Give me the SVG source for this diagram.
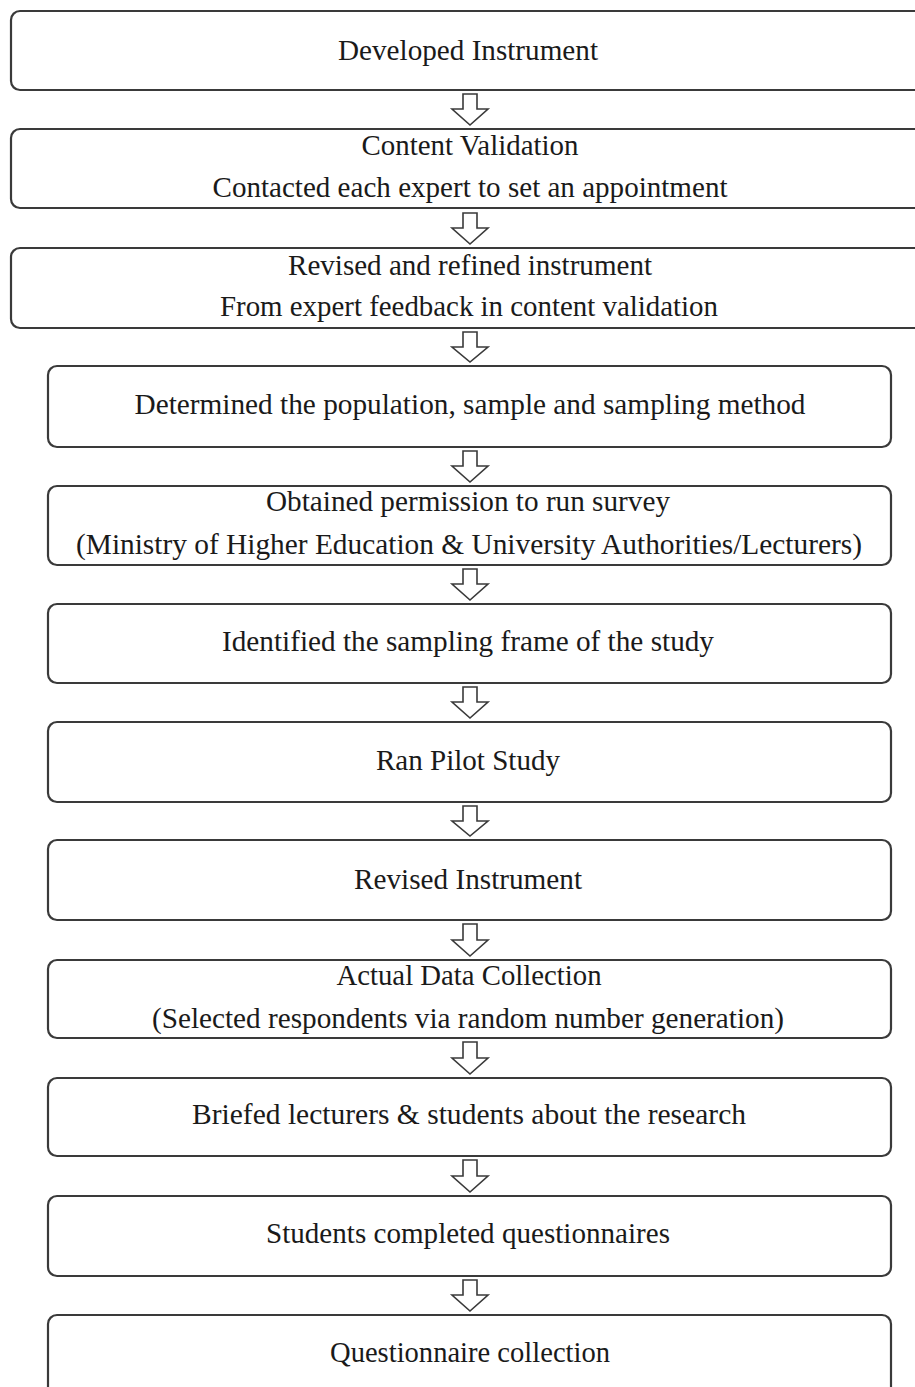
<svg xmlns="http://www.w3.org/2000/svg" width="915" height="1387" viewBox="0 0 915 1387">
<style>
.box{fill:#fff;stroke:#3a3a3a;stroke-width:2.2}
.arr{fill:#fff;stroke:#3a3a3a;stroke-width:1.6;stroke-linejoin:miter}
text{font-family:"Liberation Serif","Times New Roman",serif;font-size:28.5px;fill:#1a1a1a;text-anchor:middle}
</style>
<rect width="915" height="1387" fill="#fff"/>
<g id="n1"><rect class="box" x="11" y="11" width="930" height="79" rx="9"/><text x="468" y="60" textLength="260" lengthAdjust="spacingAndGlyphs">Developed Instrument</text></g>
<g id="n2"><rect class="box" x="11" y="129" width="930" height="79" rx="9"/><text x="470" y="155" textLength="217" lengthAdjust="spacingAndGlyphs">Content Validation</text><text x="470" y="197" textLength="515" lengthAdjust="spacingAndGlyphs">Contacted each expert to set an appointment</text></g>
<g id="n3"><rect class="box" x="11" y="248" width="930" height="80" rx="9"/><text x="470" y="275" textLength="364" lengthAdjust="spacingAndGlyphs">Revised and refined instrument</text><text x="469" y="316" textLength="498" lengthAdjust="spacingAndGlyphs">From expert feedback in content validation</text></g>
<g id="n4"><rect class="box" x="48" y="366" width="843" height="81" rx="9"/><text x="470" y="414" textLength="671" lengthAdjust="spacingAndGlyphs">Determined the population,   sample and sampling method</text></g>
<g id="n5"><rect class="box" x="48" y="486" width="843" height="79" rx="9"/><text x="468" y="511" textLength="404" lengthAdjust="spacingAndGlyphs">Obtained permission to run survey</text><text x="469" y="554" textLength="786" lengthAdjust="spacingAndGlyphs">(Ministry of Higher Education &amp; University Authorities/Lecturers)</text></g>
<g id="n6"><rect class="box" x="48" y="604" width="843" height="79" rx="9"/><text x="468" y="651" textLength="492" lengthAdjust="spacingAndGlyphs">Identified the sampling  frame of the study</text></g>
<g id="n7"><rect class="box" x="48" y="722" width="843" height="80" rx="9"/><text x="468" y="770" textLength="184" lengthAdjust="spacingAndGlyphs">Ran Pilot  Study</text></g>
<g id="n8"><rect class="box" x="48" y="840" width="843" height="80" rx="9"/><text x="468" y="889" textLength="228" lengthAdjust="spacingAndGlyphs">Revised Instrument</text></g>
<g id="n9"><rect class="box" x="48" y="960" width="843" height="78" rx="9"/><text x="469" y="985" textLength="265" lengthAdjust="spacingAndGlyphs">Actual Data Collection</text><text x="468" y="1028" textLength="632" lengthAdjust="spacingAndGlyphs">(Selected respondents via random number generation)</text></g>
<g id="n10"><rect class="box" x="48" y="1078" width="843" height="78" rx="9"/><text x="469" y="1124" textLength="554" lengthAdjust="spacingAndGlyphs">Briefed lecturers &amp; students about the research</text></g>
<g id="n11"><rect class="box" x="48" y="1196" width="843" height="80" rx="9"/><text x="468" y="1243" textLength="404" lengthAdjust="spacingAndGlyphs">Students completed questionnaires</text></g>
<g id="n12"><rect class="box" x="48" y="1315" width="843" height="100" rx="9"/><text x="470" y="1362" textLength="280" lengthAdjust="spacingAndGlyphs">Questionnaire collection</text></g>
<g id="connectors">
<path class="arr" d="M463 94 H477 V109 H488 L470 125 L452 109 H463 Z"/>
<path class="arr" d="M463 213 H477 V228 H488 L470 244 L452 228 H463 Z"/>
<path class="arr" d="M463 332 H477 V347 H488 L470 362 L452 347 H463 Z"/>
<path class="arr" d="M463 451 H477 V466 H488 L470 482 L452 466 H463 Z"/>
<path class="arr" d="M463 569 H477 V584 H488 L470 600 L452 584 H463 Z"/>
<path class="arr" d="M463 687 H477 V702 H488 L470 718 L452 702 H463 Z"/>
<path class="arr" d="M463 806 H477 V821 H488 L470 836 L452 821 H463 Z"/>
<path class="arr" d="M463 924 H477 V940 H488 L470 956 L452 940 H463 Z"/>
<path class="arr" d="M463 1042 H477 V1058 H488 L470 1074 L452 1058 H463 Z"/>
<path class="arr" d="M463 1160 H477 V1176 H488 L470 1192 L452 1176 H463 Z"/>
<path class="arr" d="M463 1280 H477 V1295 H488 L470 1311 L452 1295 H463 Z"/>
</g>
</svg>
